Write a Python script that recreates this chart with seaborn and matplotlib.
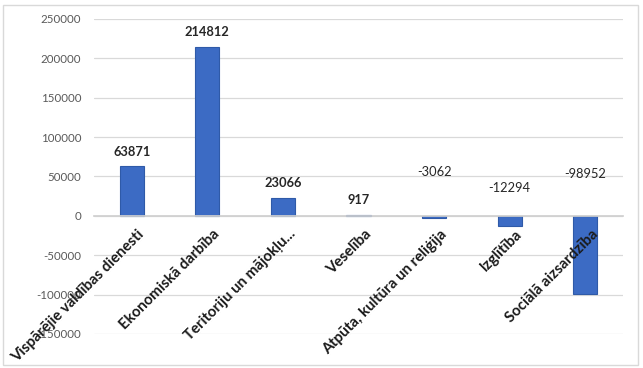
import matplotlib
matplotlib.use('Agg')
import matplotlib.pyplot as plt
import seaborn as sns
from matplotlib.patches import Rectangle

# data
categories = ['Vispārējie valdības dienesti', 'Ekonomiskā darbība', 'Teritoriju un mājokļu...',
              'Veselība', 'Atpūta, kultūra un reliģija', 'Izglītība', 'Sociālā aizsardzība']
values = [63871, 214812, 23066, 917, -3062, -12294, -98952]
y_ticks = [-150000, -100000, -50000, 0, 50000, 100000, 150000, 200000, 250000]

# label lift above the bar (or zero line) in pixels, as placed in the original
label_lift_px = [14, 15, 15, 15, 44, 28, 42]

sns.set_theme(style='white')
plt.rcParams['font.family'] = ['Lato', 'DejaVu Sans']

fig = plt.figure(figsize=(6.43, 3.68), dpi=100)
ax = fig.add_axes([0.146, 0.0924, 0.823, 0.856])

sns.barplot(x=categories, y=values, color='#3c6bc4', width=0.32,
            edgecolor='#2f5aa8', linewidth=0.8, saturation=1, ax=ax)

ax.set_ylim(-150000, 250000)
ax.set_yticks(y_ticks)
ax.set_yticklabels([str(t) for t in y_ticks], fontsize=8.3, color='#595959')
ax.yaxis.grid(True, color='#d9d9d9', linewidth=0.9)
ax.set_axisbelow(True)
ax.tick_params(axis='y', length=0, pad=9)

for s in ['top', 'right', 'left']:
    ax.spines[s].set_visible(False)
ax.spines['bottom'].set_position(('data', 0))
ax.spines['bottom'].set_color('#d0d0d0')

# category labels sit on the zero line and are drawn over the bars
ax.set_xticks(range(len(categories)))
ax.set_xticklabels([])
ax.tick_params(axis='x', length=0)
for i, name in enumerate(categories):
    ax.annotate(name, xy=(i, 0), xytext=(4, -8), textcoords='offset points',
                rotation=45, ha='right', va='top', rotation_mode='anchor',
                fontsize=10.8, fontweight='bold', color='#1a1a1a', zorder=5)

for i, v in enumerate(values):
    ax.annotate(str(v), xy=(i, max(v, 0)), xytext=(0, label_lift_px[i] * 0.72),
                textcoords='offset points', ha='center', va='center',
                fontsize=9.3, color='#262626',
                fontweight='bold' if v > 0 else 'normal')

fig.patches.append(Rectangle((0.005, 0.009), 0.988, 0.978, transform=fig.transFigure,
                             fill=False, edgecolor='#d9d9d9', linewidth=1))

fig.savefig('out.png', dpi=100)
